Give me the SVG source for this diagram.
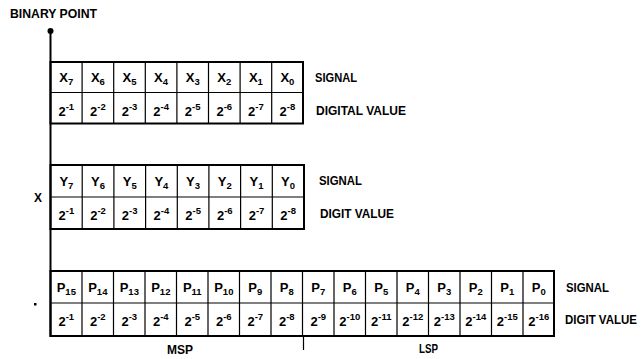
<svg xmlns="http://www.w3.org/2000/svg" width="643" height="359" viewBox="0 0 643 359">
<style>
text{font-family:"Liberation Sans",Arial,sans-serif;font-weight:bold;fill:#000}
.c{font-size:13px;text-anchor:middle}
.s{font-size:9.5px}
.lbl{font-size:13.5px}
.thick{stroke:#000;stroke-width:2;fill:none}
.thin{stroke:#000;stroke-width:1.2;fill:none}
</style>
<rect width="643" height="359" fill="#fff"/>
<text x="10" y="18" class="lbl" style="font-size:12px" textLength="87" lengthAdjust="spacingAndGlyphs">BINARY POINT</text>

<g id="connectors">
<line x1="50.5" y1="31" x2="50.5" y2="337" class="thick"/>
<circle cx="50.5" cy="31" r="3" fill="#000"/>
<line x1="303.5" y1="336" x2="303.5" y2="350" class="thin"/>
</g>

<g id="regX">
<rect x="50.5" y="62" width="252.5" height="61.5" class="thick"/>
<line x1="50.5" y1="92.5" x2="303" y2="92.5" class="thin"/>
<path class="thin" d="M82.1 62V123.5M113.7 62V123.5M145.3 62V123.5M176.9 62V123.5M208.5 62V123.5M240.1 62V123.5M271.7 62V123.5"/>
<text class="c" y="82"><tspan x="66.3">X<tspan class="s" dy="3">7</tspan></tspan></text>
<text class="c" y="82"><tspan x="97.9">X<tspan class="s" dy="3">6</tspan></tspan></text>
<text class="c" y="82"><tspan x="129.5">X<tspan class="s" dy="3">5</tspan></tspan></text>
<text class="c" y="82"><tspan x="161.1">X<tspan class="s" dy="3">4</tspan></tspan></text>
<text class="c" y="82"><tspan x="192.7">X<tspan class="s" dy="3">3</tspan></tspan></text>
<text class="c" y="82"><tspan x="224.3">X<tspan class="s" dy="3">2</tspan></tspan></text>
<text class="c" y="82"><tspan x="255.9">X<tspan class="s" dy="3">1</tspan></tspan></text>
<text class="c" y="82"><tspan x="287.4">X<tspan class="s" dy="3">0</tspan></tspan></text>
<text class="c" x="66.3" y="116">2<tspan class="s" dy="-6">-1</tspan></text>
<text class="c" x="97.9" y="116">2<tspan class="s" dy="-6">-2</tspan></text>
<text class="c" x="129.5" y="116">2<tspan class="s" dy="-6">-3</tspan></text>
<text class="c" x="161.1" y="116">2<tspan class="s" dy="-6">-4</tspan></text>
<text class="c" x="192.7" y="116">2<tspan class="s" dy="-6">-5</tspan></text>
<text class="c" x="224.3" y="116">2<tspan class="s" dy="-6">-6</tspan></text>
<text class="c" x="255.9" y="116">2<tspan class="s" dy="-6">-7</tspan></text>
<text class="c" x="287.4" y="116">2<tspan class="s" dy="-6">-8</tspan></text>
<text x="315" y="82" class="lbl" textLength="42" lengthAdjust="spacingAndGlyphs">SIGNAL</text>
<text x="316" y="115" class="lbl" textLength="90" lengthAdjust="spacingAndGlyphs">DIGITAL VALUE</text>
</g>

<g id="regY">
<rect x="50.5" y="165" width="253.5" height="64" class="thick"/>
<line x1="50.5" y1="197" x2="304" y2="197" class="thin"/>
<path class="thin" d="M82.2 165V229M113.9 165V229M145.6 165V229M177.3 165V229M208.9 165V229M240.6 165V229M272.3 165V229"/>
<text class="c" y="186"><tspan x="66.4">Y<tspan class="s" dy="3">7</tspan></tspan></text>
<text class="c" y="186"><tspan x="98">Y<tspan class="s" dy="3">6</tspan></tspan></text>
<text class="c" y="186"><tspan x="129.7">Y<tspan class="s" dy="3">5</tspan></tspan></text>
<text class="c" y="186"><tspan x="161.4">Y<tspan class="s" dy="3">4</tspan></tspan></text>
<text class="c" y="186"><tspan x="193.1">Y<tspan class="s" dy="3">3</tspan></tspan></text>
<text class="c" y="186"><tspan x="224.8">Y<tspan class="s" dy="3">2</tspan></tspan></text>
<text class="c" y="186"><tspan x="256.5">Y<tspan class="s" dy="3">1</tspan></tspan></text>
<text class="c" y="186"><tspan x="288.1">Y<tspan class="s" dy="3">0</tspan></tspan></text>
<text class="c" x="66.4" y="220">2<tspan class="s" dy="-6">-1</tspan></text>
<text class="c" x="98" y="220">2<tspan class="s" dy="-6">-2</tspan></text>
<text class="c" x="129.7" y="220">2<tspan class="s" dy="-6">-3</tspan></text>
<text class="c" x="161.4" y="220">2<tspan class="s" dy="-6">-4</tspan></text>
<text class="c" x="193.1" y="220">2<tspan class="s" dy="-6">-5</tspan></text>
<text class="c" x="224.8" y="220">2<tspan class="s" dy="-6">-6</tspan></text>
<text class="c" x="256.5" y="220">2<tspan class="s" dy="-6">-7</tspan></text>
<text class="c" x="288.1" y="220">2<tspan class="s" dy="-6">-8</tspan></text>
<text x="319" y="185" class="lbl" textLength="43" lengthAdjust="spacingAndGlyphs">SIGNAL</text>
<text x="320" y="218" class="lbl" textLength="74" lengthAdjust="spacingAndGlyphs">DIGIT VALUE</text>
<text x="34" y="202" class="lbl" style="font-size:12px">X</text>
</g>

<g id="regP">
<rect x="50.5" y="271" width="503.5" height="65" class="thick"/>
<line x1="50.5" y1="303" x2="554" y2="303" class="thin"/>
<path class="thin" d="M82 271V336M113.5 271V336M145 271V336M176.5 271V336M208 271V336M239.5 271V336M271 271V336M302.5 271V336M334 271V336M365.5 271V336M397 271V336M428.5 271V336M460 271V336M491.5 271V336M523 271V336"/>
<text class="c" y="292"><tspan x="66.3">P<tspan class="s" dy="3">15</tspan></tspan></text>
<text class="c" y="292"><tspan x="97.8">P<tspan class="s" dy="3">14</tspan></tspan></text>
<text class="c" y="292"><tspan x="129.3">P<tspan class="s" dy="3">13</tspan></tspan></text>
<text class="c" y="292"><tspan x="160.8">P<tspan class="s" dy="3">12</tspan></tspan></text>
<text class="c" y="292"><tspan x="192.3">P<tspan class="s" dy="3">11</tspan></tspan></text>
<text class="c" y="292"><tspan x="223.8">P<tspan class="s" dy="3">10</tspan></tspan></text>
<text class="c" y="292"><tspan x="255.3">P<tspan class="s" dy="3">9</tspan></tspan></text>
<text class="c" y="292"><tspan x="286.8">P<tspan class="s" dy="3">8</tspan></tspan></text>
<text class="c" y="292"><tspan x="318.3">P<tspan class="s" dy="3">7</tspan></tspan></text>
<text class="c" y="292"><tspan x="349.8">P<tspan class="s" dy="3">6</tspan></tspan></text>
<text class="c" y="292"><tspan x="381.3">P<tspan class="s" dy="3">5</tspan></tspan></text>
<text class="c" y="292"><tspan x="412.8">P<tspan class="s" dy="3">4</tspan></tspan></text>
<text class="c" y="292"><tspan x="444.3">P<tspan class="s" dy="3">3</tspan></tspan></text>
<text class="c" y="292"><tspan x="475.8">P<tspan class="s" dy="3">2</tspan></tspan></text>
<text class="c" y="292"><tspan x="507.3">P<tspan class="s" dy="3">1</tspan></tspan></text>
<text class="c" y="292"><tspan x="538.8">P<tspan class="s" dy="3">0</tspan></tspan></text>
<text class="c" x="66.3" y="326">2<tspan class="s" dy="-6">-1</tspan></text>
<text class="c" x="97.8" y="326">2<tspan class="s" dy="-6">-2</tspan></text>
<text class="c" x="129.3" y="326">2<tspan class="s" dy="-6">-3</tspan></text>
<text class="c" x="160.8" y="326">2<tspan class="s" dy="-6">-4</tspan></text>
<text class="c" x="192.3" y="326">2<tspan class="s" dy="-6">-5</tspan></text>
<text class="c" x="223.8" y="326">2<tspan class="s" dy="-6">-6</tspan></text>
<text class="c" x="255.3" y="326">2<tspan class="s" dy="-6">-7</tspan></text>
<text class="c" x="286.8" y="326">2<tspan class="s" dy="-6">-8</tspan></text>
<text class="c" x="318.3" y="326">2<tspan class="s" dy="-6">-9</tspan></text>
<text class="c" x="349.8" y="326">2<tspan class="s" dy="-6">-10</tspan></text>
<text class="c" x="381.3" y="326">2<tspan class="s" dy="-6">-11</tspan></text>
<text class="c" x="412.8" y="326">2<tspan class="s" dy="-6">-12</tspan></text>
<text class="c" x="444.3" y="326">2<tspan class="s" dy="-6">-13</tspan></text>
<text class="c" x="475.8" y="326">2<tspan class="s" dy="-6">-14</tspan></text>
<text class="c" x="507.3" y="326">2<tspan class="s" dy="-6">-15</tspan></text>
<text class="c" x="538.8" y="326">2<tspan class="s" dy="-6">-16</tspan></text>
<text x="566" y="292" class="lbl" textLength="43" lengthAdjust="spacingAndGlyphs">SIGNAL</text>
<text x="565" y="324" class="lbl" style="font-size:12px" textLength="72" lengthAdjust="spacingAndGlyphs">DIGIT VALUE</text>
<text x="167" y="354" class="lbl" style="font-size:12px" textLength="26" lengthAdjust="spacingAndGlyphs">MSP</text>
<text x="419" y="353" class="lbl" style="font-size:12px" textLength="19" lengthAdjust="spacingAndGlyphs">LSP</text>
<rect x="34" y="303" width="2.5" height="2.5" fill="#000"/>
</g>
</svg>
